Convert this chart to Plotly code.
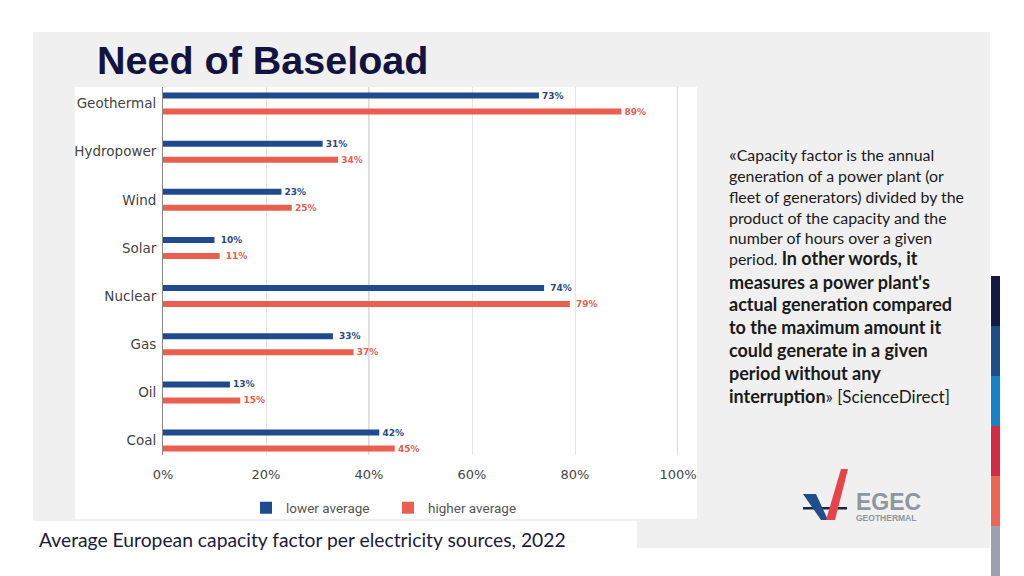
import plotly.graph_objects as go

# ---------------- data ----------------
categories = ["Geothermal", "Hydropower", "Wind", "Solar", "Nuclear", "Gas", "Oil", "Coal"]
lower_average = [73, 31, 23, 10, 74, 33, 13, 42]
higher_average = [89, 34, 25, 11, 79, 37, 15, 45]
x_tick_values = [0, 20, 40, 60, 80, 100]
x_tick_labels = ["0%", "20%", "40%", "60%", "80%", "100%"]
series_names = ["lower average", "higher average"]

title_text = "Need of Baseload"
caption_text = "Average European capacity factor per electricity sources, 2022"
quote_lines = [
    ("<span style='font-size:18px'>«</span>Capacity factor is the annual", 15.9),
    ("generation of a power plant (or", 15.9),
    ("fleet of generators) divided by the", 15.9),
    ("product of the capacity and the", 15.9),
    ("number of hours over a given", 15.9),
    ("period. <span style='font-size:18px'><b>In other words, it</b></span>", 15.9),
    ("<b>measures a power plant's</b>", 18),
    ("<b>actual generation compared</b>", 18),
    ("<b>to the maximum amount it</b>", 18),
    ("<b>could generate in a given</b>", 18),
    ("<b>period without any</b>", 18),
    ("<b>interruption</b><span style='font-size:17px'>» [ScienceDirect]</span>", 18),
]
quote_y = [154, 175, 196, 217, 237, 258, 282, 304, 327, 350, 373, 396]

# ---------------- layout geometry (reference pixels) ----------------
OFF = 8                      # page body margin
W, H = 1024 - OFF, 576 - OFF
L, R, T, B = 163, 678, 87, 455
pw, ph = R - L, B - T


def px(x):
    return (x - L) / pw


def py(y):
    return (B - y) / ph


BLUE = "#1f4b8e"
RED = "#ec5f50"

fig = go.Figure()
fig.add_trace(go.Bar(
    y=categories, x=lower_average, orientation="h", name=series_names[0],
    marker=dict(color=BLUE, line=dict(width=0)),
    texttemplate=" %{x}%", textposition="outside", constraintext="none",
    textfont=dict(family="DejaVu Sans", size=9, color="#2b4a86", weight="bold"),
    cliponaxis=False,
))
fig.add_trace(go.Bar(
    y=categories, x=higher_average, orientation="h", name=series_names[1],
    marker=dict(color=RED, line=dict(width=0)),
    texttemplate=" %{x}%", textposition="outside", constraintext="none",
    textfont=dict(family="DejaVu Sans", size=9, color="#e4604f", weight="bold"),
    cliponaxis=False,
))

shapes = [
    dict(type="rect", xref="paper", yref="paper", x0=px(33), x1=px(990), y0=py(548), y1=py(32),
         fillcolor="#f0f0f0", line=dict(width=0), layer="below"),
    dict(type="rect", xref="paper", yref="paper", x0=px(75), x1=px(697), y0=py(519), y1=py(87),
         fillcolor="#ffffff", line=dict(width=0), layer="below"),
    dict(type="rect", xref="paper", yref="paper", x0=px(33), x1=px(637), y0=py(548), y1=py(521),
         fillcolor="#ffffff", line=dict(width=0), layer="below"),
    dict(type="line", xref="x", yref="paper", x0=40, x1=40, y0=0, y1=1,
         line=dict(color="#b8b8b8", width=1), layer="below"),
    dict(type="line", xref="x", yref="paper", x0=100, x1=100, y0=0, y1=1,
         line=dict(color="#b8b8b8", width=1), layer="below"),
]

strip_colors = ["#151a45", "#1d4e86", "#1682c8", "#d42a45", "#f06454", "#9aa3ad"]
for i, c in enumerate(strip_colors):
    shapes.append(dict(type="rect", xref="paper", yref="paper",
                       x0=px(991), x1=px(1000), y0=py(276 + 50 * (i + 1)), y1=py(276 + 50 * i),
                       fillcolor=c, line=dict(width=0)))


def path(pts):
    return "M " + " L ".join(f"{px(a):.5f},{py(b):.5f}" for a, b in pts) + " Z"


shapes += [
    dict(type="path", xref="paper", yref="paper", path=path([(803, 507), (847, 507), (847, 509.5), (803, 509.5)]),
         fillcolor="#1b2545", line=dict(width=0)),
    dict(type="path", xref="paper", yref="paper", path=path([(803, 494), (816, 494), (828, 520), (821, 520)]),
         fillcolor="#1f4e8c", line=dict(width=0)),
    dict(type="path", xref="paper", yref="paper", path=path([(826, 520), (835, 520), (848, 469), (841, 469)]),
         fillcolor="#e8434b", line=dict(width=0)),
]

annotations = [
    dict(text=f"<b>{title_text}</b>", xref="paper", yref="paper", x=px(95), y=py(60),
         xanchor="left", yanchor="middle", showarrow=False,
         font=dict(family="Liberation Sans", size=39.5, color="#12133f")),
    dict(text=caption_text, xref="paper", yref="paper", x=px(37), y=py(539),
         xanchor="left", yanchor="middle", showarrow=False,
         font=dict(family="Lato", size=19.3, color="#1b1b3a")),
    dict(text="<span style='font-size:23px'><b>EGEC</b></span><br><b>GEOTHERMAL</b>",
         xref="paper", yref="paper", x=px(855), y=py(506), align="left",
         xanchor="left", yanchor="middle", showarrow=False, borderpad=0,
         font=dict(family="Liberation Sans", size=8.5, color="#8f969e")),
]
for (txt, size), yy in zip(quote_lines, quote_y):
    annotations.append(dict(text=txt, xref="paper", yref="paper", x=px(727), y=py(yy),
                            xanchor="left", yanchor="middle", showarrow=False, align="left",
                            font=dict(family="Lato", size=size, color="#1a1a1a")))

fig.update_layout(
    width=W, height=H,
    margin=dict(l=L - OFF, r=(1024 - OFF) - (R - OFF), t=T - OFF, b=(576 - OFF) - (B - OFF), pad=0),
    paper_bgcolor="#ffffff",
    plot_bgcolor="rgba(0,0,0,0)",
    barmode="group", bargap=0.335, bargroupgap=0.625,
    showlegend=True,
    legend=dict(orientation="h", x=px(246), y=py(508), xanchor="left", yanchor="middle",
                font=dict(family="Roboto", size=13.5, color="#555555"),
                bgcolor="rgba(0,0,0,0)", entrywidth=97, traceorder="normal"),
    xaxis=dict(range=[0, 100], tickvals=x_tick_values, ticktext=x_tick_labels,
               showgrid=True, gridcolor="#e6e6e6", gridwidth=1, zeroline=False,
               showline=False, ticks="", ticklabelstandoff=10,
               tickfont=dict(family="DejaVu Sans", size=13, color="#444444")),
    yaxis=dict(type="category", range=[7.30, -0.343], showgrid=False, zeroline=False,
               showline=True, linecolor="#8a8a8a", linewidth=1, ticks="",
               ticklabelstandoff=3,
               tickfont=dict(family="DejaVu Sans", size=13.5, color="#444444")),
    shapes=shapes,
    annotations=annotations,
    font=dict(family="DejaVu Sans"),
)

fig.write_html("out.html")
